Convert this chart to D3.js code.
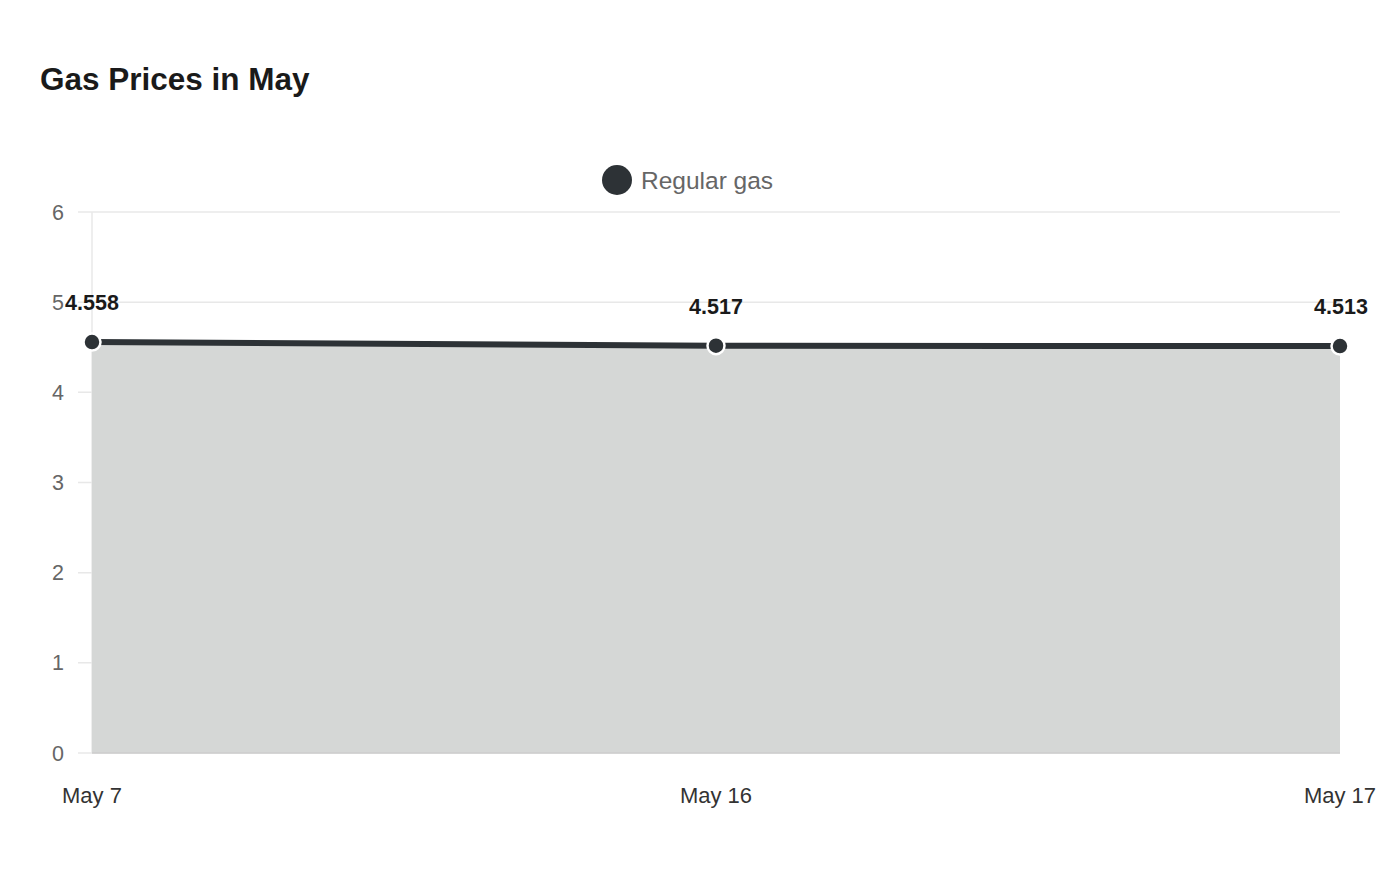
<!DOCTYPE html>
<html>
<head>
<meta charset="utf-8">
<script src="https://cdn.jsdelivr.net/npm/d3@7"></script>
<style>
  body { margin: 0; background: #fff; font-family: "Liberation Sans", Arial, sans-serif; }
</style>
</head>
<body>
<div id="chart"></div>
<script>
(function () {
  "use strict";

  var dates = ["May 7", "May 16", "May 17"],
    prices = [4.558, 4.517, 4.513],
    yTicks = [0, 1, 2, 3, 4, 5, 6],
    seriesName = "Regular gas",
    title = "Gas Prices in May";

  var w = 1400, h = 880,
    left = 92, right = 1340, top = 212, bottom = 753,
    lineColor = "#2d3236";

  var svg = d3.select("#chart").append("svg")
    .attr("width", w).attr("height", h);

  var x = d3.scalePoint().domain(dates).range([left, right]);
  var y = d3.scaleLinear().domain([0, 6]).range([bottom, top]);

  svg.append("text")
    .attr("x", 40).attr("y", 90)
    .style("font-size", "31.5px").style("font-weight", "bold").style("fill", "#1a1a1a")
    .text(title);

  // legend
  var lg = svg.append("g");
  lg.append("circle").attr("cx", 617).attr("cy", 180).attr("r", 15).attr("fill", lineColor);
  lg.append("text").attr("x", 641).attr("y", 188.5)
    .style("font-size", "24.5px").style("fill", "#666")
    .text(seriesName);

  // grid
  svg.append("g").selectAll("line").data(yTicks).enter().append("line")
    .attr("x1", 78).attr("x2", right)
    .attr("y1", function (d) { return y(d); }).attr("y2", function (d) { return y(d); })
    .attr("stroke", "#e8e8e8").attr("stroke-width", 1.5);

  svg.append("line").attr("x1", left).attr("x2", left).attr("y1", top).attr("y2", bottom)
    .attr("stroke", "#e8e8e8").attr("stroke-width", 1.5);

  svg.append("g").selectAll("text").data(yTicks).enter().append("text")
    .attr("x", 64).attr("y", function (d) { return y(d) + 7.5; })
    .attr("text-anchor", "end")
    .style("font-size", "21.5px").style("fill", "#666")
    .text(function (d) { return d; });

  var pts = dates.map(function (d, i) { return { date: d, value: prices[i] }; });

  var area = d3.area()
    .x(function (d) { return x(d.date); })
    .y0(y(0))
    .y1(function (d) { return y(d.value); });

  svg.append("path").datum(pts).attr("d", area).attr("fill", "#d5d7d6");

  svg.append("line").attr("x1", left).attr("x2", right).attr("y1", bottom).attr("y2", bottom)
    .attr("stroke", "#cccccc").attr("stroke-width", 1.5);

  var line = d3.line()
    .x(function (d) { return x(d.date); })
    .y(function (d) { return y(d.value); });

  svg.append("path").datum(pts).attr("d", line)
    .attr("fill", "none").attr("stroke", lineColor).attr("stroke-width", 6);

  svg.append("g").selectAll("circle").data(pts).enter().append("circle")
    .attr("cx", function (d) { return x(d.date); })
    .attr("cy", function (d) { return y(d.value); })
    .attr("r", 8.5)
    .attr("fill", lineColor).attr("stroke", "#fff").attr("stroke-width", 2.5);

  svg.append("g").selectAll("text").data(pts).enter().append("text")
    .attr("x", function (d, i) { return x(d.date) + (i === 2 ? 1 : 0); })
    .attr("y", function (d) { return y(d.value) - 32; })
    .attr("text-anchor", "middle")
    .style("font-size", "21.5px").style("font-weight", "bold").style("fill", "#1a1a1a")
    .text(function (d) { return d.value; });

  svg.append("g").selectAll("text").data(dates).enter().append("text")
    .attr("x", function (d) { return x(d); })
    .attr("y", 802.5)
    .attr("text-anchor", "middle")
    .style("font-size", "22px").style("fill", "#333")
    .text(function (d) { return d; });
})();
</script>
</body>
</html>
